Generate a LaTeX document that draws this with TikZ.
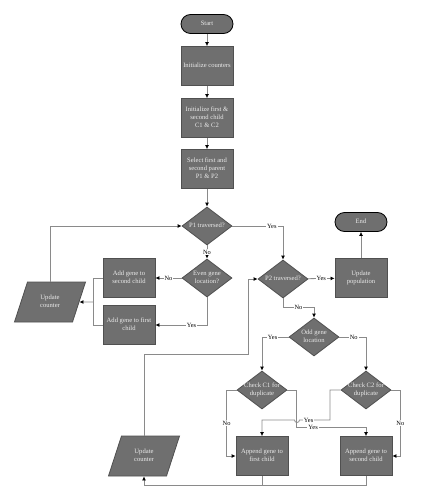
\documentclass[tikz,border=0pt]{standalone}
\usepackage{fontspec}
\setmainfont{Liberation Serif}
\usetikzlibrary{arrows.meta,shapes.geometric}

\definecolor{boxgray}{HTML}{6F6F6F}
\definecolor{edgegray}{HTML}{505050}
\definecolor{linegray}{HTML}{8A8A8A}

% zero width text, so the shapes keep their minimum size
\newcommand\ftext[1]{\makebox[0pt]{\begin{tabular}{@{}c@{}}#1\end{tabular}}}

\tikzset{base/.style = {fill=boxgray,draw=edgegray,line width=.8pt,
                        text=white!92!black,inner sep=0pt,
                        font=\fontsize{6.6}{8}\selectfont},
         term/.style = {base,draw=black,rounded corners=9.5pt,
                        minimum width=52pt,minimum height=19pt},
         proc/.style = {base,minimum width=52pt,minimum height=39pt},
         decide/.style = {base,diamond,minimum width=50pt,minimum height=38pt},
         io/.style = {base,trapezium,trapezium left angle=72,
                      trapezium right angle=108,trapezium stretches body=true,
                      text height=22pt,text depth=18pt,minimum width=71pt},
         lbl/.style = {fill=white,inner sep=1pt,font=\fontsize{6.4}{7}\selectfont}}

\begin{document}
\begin{tikzpicture}[x=1pt,y=-1pt,>={Latex[length=4pt,width=4pt,black]},
                    line width=.8pt,draw=linegray]
\useasboundingbox (0,0) rectangle (420,500);

\node[term]   (start) at (207,24)  {\ftext{Start}};
\node[proc]   (init)  at (207,66)  {\ftext{Initialize counters}};
\node[proc]   (initc) at (207,118) {\ftext{Initialize first \&\\second child\\C1 \& C2}};
\node[proc]   (sel)   at (207,169) {\ftext{Select first and\\second parent\\P1 \& P2}};
\node[decide] (p1)    at (207,226) {\ftext{P1 traversed?}};
\node[decide] (even)  at (207,278) {\ftext{Even gene\\location?}};
\node[proc]   (add2)  at (129,278) {\ftext{Add gene to\\second child}};
\node[proc]   (add1)  at (129,325) {\ftext{Add gene to first\\child}};
\node[io]     (upd1)  at (50,302)  {\ftext{Update\\counter}};
\node[decide] (p2)    at (283,279) {\ftext{P2 traversed?}};
\node[proc]   (upop)  at (361,278) {\ftext{Update\\population}};
\node[term]   (end)   at (361,222) {\ftext{End}};
\node[decide] (odd)   at (314,337) {\ftext{Odd gene\\location}};
\node[decide] (c1)    at (262,390) {\ftext{Check C1 for\\duplicate}};
\node[decide] (c2)    at (366,390) {\ftext{Check C2 for\\duplicate}};
\node[proc]   (app1)  at (262,456) {\ftext{Append gene to\\first child}};
\node[proc]   (app2)  at (366,456) {\ftext{Append gene to\\second child}};
\node[io]     (upd3)  at (144,456) {\ftext{Update\\counter}};

\coordinate (join) at (93,302);

\draw[->] (start) -- (init);
\draw[->] (init) -- (initc);
\draw[->] (initc) -- (sel);
\draw[->] (sel) -- (p1);
\draw[->] (p1) -- node[lbl] {No} (even);
\draw[->] (even) -- node[lbl] {No} (add2);
\draw[->] (even.south) |- node[lbl,pos=.65] {Yes} (add1.east);
\draw (add2.west) -- (join |- add2.west) -- (join |- add1.west) -- (add1.west);
\draw[->] (join) -- (upd1.east);
\draw[->] (upd1.north -| upd1.center) |- (p1.west);
\draw[->] (p1.east) -| node[lbl,pos=.39] {Yes} (p2.north);
\draw[->] (p2) -- node[lbl] {Yes} (upop);
\draw[->] (upop) -- (end);
\draw[->] (p2.south) -- ++(0,9) -| node[lbl,pos=.25] {No} (odd.north);
\draw[->] (odd.west) -| node[lbl,pos=.3] {Yes} (c1.north);
\draw[->] (odd.east) -| node[lbl,pos=.27] {No} (c2.north);
\draw[->] (c1.west) -- ++(-10,0) |- node[lbl,pos=.25] {No} (app1.west);
\draw[->] (c2.east) -- ++(9,0) |- node[lbl,pos=.25] {No} (app2.east);
\draw[->] (c1.east) -- ++(9,0) -- ++(0,37) -| node[lbl,pos=.12] {Yes} (app2.north);
\draw[->] (c2.west) -| (330,420) -- node[lbl,pos=.7] {Yes} (299.5,420)
          arc[start angle=0,end angle=180,radius=2.5] -| (app1.north);
\draw (app1.south) -- ++(0,9);
\draw[->] (app2.south) -- ++(0,9) -| (upd3.south -| upd3.center);
\draw[->] (upd3.north -| upd3.center) |- (248,354) |- (p2.west);
\end{tikzpicture}
\end{document}
